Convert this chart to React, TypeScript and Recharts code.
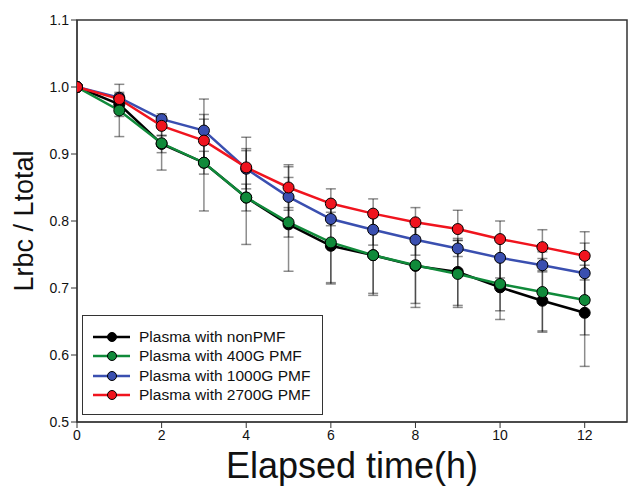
import React from "react";
import {
  LineChart,
  Line,
  XAxis,
  YAxis,
  ErrorBar,
  ReferenceArea,
} from "recharts";

const hours = [0, 1, 2, 3, 4, 5, 6, 7, 8, 9, 10, 11, 12];

const nonPMF = [1.0, 0.974, 0.915, 0.887, 0.835, 0.795, 0.763, 0.749, 0.733, 0.724, 0.701, 0.681, 0.663];
const nonPMFErr = [0, 0.018, 0.013, 0.017, 0.07, 0.07, 0.057, 0.057, 0.062, 0.05, 0.048, 0.045, 0.08];

const pmf400 = [1.0, 0.965, 0.916, 0.887, 0.835, 0.798, 0.768, 0.749, 0.734, 0.721, 0.706, 0.694, 0.682];
const pmf400Err = [0, 0.039, 0.04, 0.072, 0.02, 0.022, 0.06, 0.06, 0.057, 0.05, 0.04, 0.06, 0.052];

const pmf1000 = [1.0, 0.984, 0.952, 0.935, 0.878, 0.836, 0.803, 0.787, 0.772, 0.759, 0.745, 0.734, 0.722];
const pmf1000Err = [0, 0.006, 0.008, 0.047, 0.03, 0.045, 0.01, 0.023, 0.023, 0.012, 0.03, 0.01, 0.045];

const pmf2700 = [1.0, 0.982, 0.942, 0.92, 0.88, 0.85, 0.826, 0.811, 0.798, 0.788, 0.773, 0.761, 0.748];
const pmf2700Err = [0, 0.006, 0.015, 0.032, 0.045, 0.034, 0.022, 0.022, 0.022, 0.028, 0.027, 0.026, 0.036];

const xTicks = [0, 2, 4, 6, 8, 10, 12];
const yTicks = [0.5, 0.6, 0.7, 0.8, 0.9, 1.0, 1.1];

const series = [
  { key: "non", name: "Plasma with nonPMF", color: "#000000" },
  { key: "g400", name: "Plasma with 400G PMF", color: "#108a3a" },
  { key: "g1000", name: "Plasma with 1000G PMF", color: "#3a4fb0" },
  { key: "g2700", name: "Plasma with 2700G PMF", color: "#f0141e" },
];

const data = hours.map((t, i) => ({
  t,
  non: nonPMF[i],
  non_e: nonPMFErr[i],
  g400: pmf400[i],
  g400_e: pmf400Err[i],
  g1000: pmf1000[i],
  g1000_e: pmf1000Err[i],
  g2700: pmf2700[i],
  g2700_e: pmf2700Err[i],
}));

const font = "'Liberation Sans', Arial, sans-serif";

function LegendBox() {
  return (
    <div
      style={{
        position: "absolute",
        left: 82,
        top: 315,
        border: "1.5px solid #333",
        background: "#fff",
        width: 241,
        height: 100,
        boxSizing: "border-box",
        padding: "11px 0 0 10px",
        fontFamily: font,
        fontSize: 15.5,
        color: "#111",
      }}
    >
      {series.map((s) => (
        <div key={s.key} style={{ display: "flex", alignItems: "center", height: 19.5 }}>
          <svg width={38} height={12} style={{ marginRight: 8 }}>
            <line x1={0} y1={6} x2={37} y2={6} stroke={s.color} strokeWidth={2.5} />
            <circle cx={19} cy={6} r={4.5} fill={s.color} stroke="#000" strokeWidth={1} />
          </svg>
          <span>{s.name}</span>
        </div>
      ))}
    </div>
  );
}

function YLabel(props: any) {
  const vb = props.viewBox || {};
  const cx = 24;
  const cy = vb.y + vb.height / 2;
  return (
    <text
      x={cx}
      y={cy}
      transform={`rotate(-90 ${cx} ${cy})`}
      textAnchor="middle"
      dominantBaseline="central"
      fontSize={27}
      fontFamily={font}
      fill="#111"
    >
      Lrbc / Ltotal
    </text>
  );
}

function XLabel(props: any) {
  const vb = props.viewBox || {};
  const cx = vb.x + vb.width / 2;
  return (
    <text x={cx} y={478} textAnchor="middle" fontSize={36} fontFamily={font} fill="#111">
      Elapsed time(h)
    </text>
  );
}

export default function App() {
  return (
    <div style={{ position: "absolute", left: 0, top: 0, width: 631, height: 489, background: "#fff" }}>
      <LineChart width={631} height={489} data={data} margin={{ top: 20, right: 4, left: 0, bottom: 0 }}>
        <ReferenceArea x1={0} x2={13} y1={0.5} y2={1.1} fill="none" stroke="#333" strokeWidth={1.5} ifOverflow="visible" />
        <XAxis
          dataKey="t"
          type="number"
          domain={[0, 13]}
          ticks={xTicks}
          allowDataOverflow
          height={67}
          tickSize={6}
          stroke="#333"
          tick={{ fontSize: 14, fontFamily: font, fill: "#111" }}
          label={<XLabel />}
        />
        <YAxis
          type="number"
          domain={[0.5, 1.1]}
          ticks={yTicks}
          width={77}
          tickSize={6}
          stroke="#333"
          tickFormatter={(v: number) => v.toFixed(1)}
          tick={{ fontSize: 14, fontFamily: font, fill: "#111" }}
          label={<YLabel />}
        />
        {series.map((s) => (
          <Line
            key={s.key}
            dataKey={s.key}
            name={s.name}
            stroke={s.color}
            strokeWidth={2.5}
            isAnimationActive={false}
            dot={{ r: 5.5, fill: s.color, stroke: "#000", strokeWidth: 1, fillOpacity: 1 }}
            activeDot={false}
          >
            <ErrorBar dataKey={`${s.key}_e`} direction="y" width={5} stroke="#000" strokeOpacity={0.45} strokeWidth={1.5} />
          </Line>
        ))}
      </LineChart>
      <LegendBox />
    </div>
  );
}
